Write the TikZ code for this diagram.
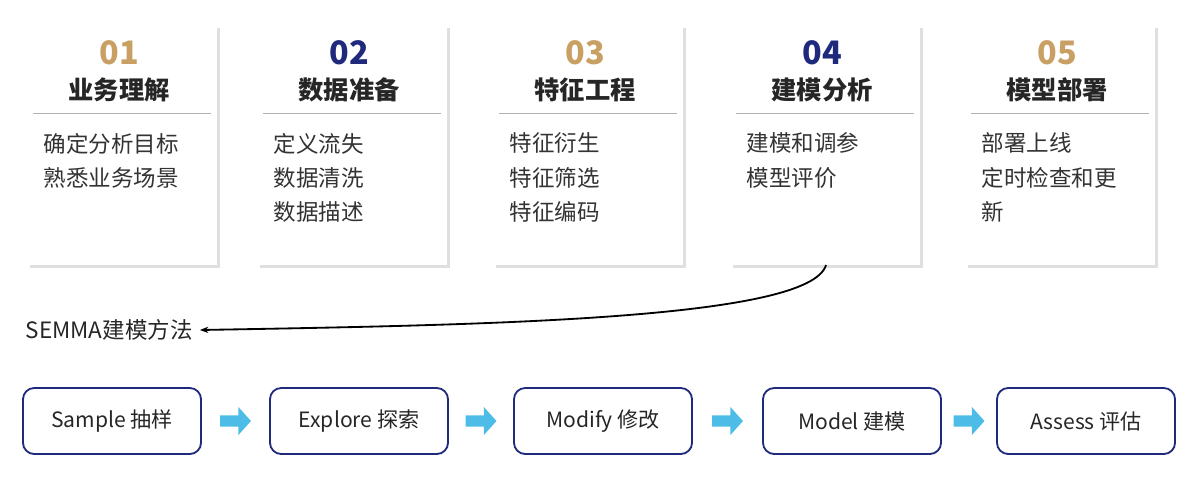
\documentclass[tikz,border=0pt]{standalone}
\usepackage{fontspec}
\setmainfont{Noto Sans CJK SC}
\usetikzlibrary{shadows,arrows.meta}
\definecolor{gold}{HTML}{C9A063}
\definecolor{navy}{HTML}{1F2A7C}
\definecolor{sky}{HTML}{4DBDE8}
\begin{document}
\begin{tikzpicture}[x=0.025cm,y=-0.025cm,
 card/.style={draw=none,fill=white,minimum width=4.75cm,minimum height=6cm,anchor=north west,
   drop shadow={shadow xshift=2pt,shadow yshift=-2pt,opacity=0.5,fill=black!25}},
 num/.style={font=\fontsize{23}{23}\selectfont\bfseries},
 ttl/.style={font=\fontsize{18}{18}\selectfont\bfseries,text=black!85},
 body/.style={font=\fontsize{16}{24.5}\selectfont,text=black!80,align=left,anchor=north west},
 semstep/.style={draw=navy,line width=1.3pt,rounded corners=8pt,minimum width=4.45cm,minimum height=1.65cm,
   font=\fontsize{15}{15}\selectfont,text=black!85}]
\useasboundingbox (0,0) rectangle (1200,476);
\foreach \i/\x/\n/\c/\t/\b in {1/27/01/gold/业务理解/{确定分析目标\\熟悉业务场景},
 2/257/02/navy/数据准备/{定义流失\\数据清洗\\数据描述},
 3/493/03/gold/特征工程/{特征衍生\\特征筛选\\特征编码},
 4/730/04/navy/建模分析/{建模和调参\\模型评价},
 5/965/05/gold/模型部署/{部署上线\\定时检查和更\\新}}{
 \node[card] (c\i) at (\x,25) {};
 \node[num,text=\c] (n\i) at (\x+92,53) {\n};
 \node[ttl] (t\i) at (\x+92,90) {\t};
 \draw[black!30,line width=0.6pt] (\x+6,113) -- (\x+184,113);
 \node[body] (b\i) at (\x+12,128) {\b};
}
\node[font=\fontsize{16}{16}\selectfont,text=black!85,anchor=west,inner sep=1pt] (semma) at (24,330) {SEMMA建模方法};
\coordinate (cs) at (826,265);
\draw[-{Stealth[length=6pt]},line width=1.3pt] (cs) .. controls (810,320) and (480,325) .. ([xshift=4pt]semma.east);
\foreach \i/\x/\t in {1/23/Sample 抽样,2/270/Explore 探索,3/514/Modify 修改,4/763/Model 建模,5/997/Assess 评估}{
 \node[semstep] (s\i) at (\x+89,421) {\t};
}
\foreach \a/\b in {1/2,2/3,3/4,4/5}{
 \path (s\a.east) -- (s\b.west) coordinate[pos=0.5] (m\a);
 \fill[sky] ([xshift=-11,yshift=-4]m\a) -- ([xshift=2,yshift=-4]m\a) -- ([xshift=2,yshift=-10]m\a) -- ([xshift=11]m\a) -- ([xshift=2,yshift=10]m\a) -- ([xshift=2,yshift=4]m\a) -- ([xshift=-11,yshift=4]m\a) -- cycle;
}
\end{tikzpicture}
\end{document}
